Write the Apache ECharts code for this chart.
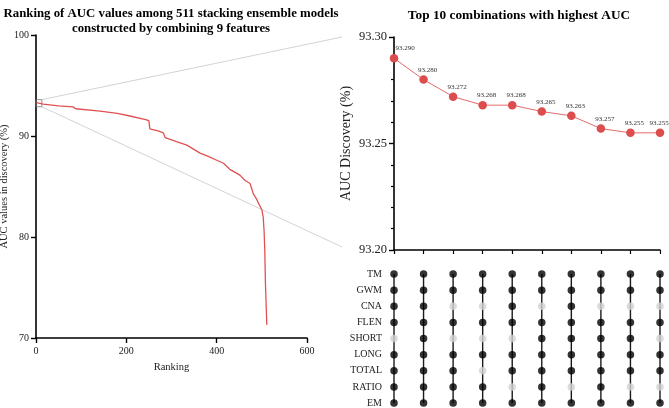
<!DOCTYPE html>
<html>
<head>
<meta charset="utf-8">
<script src="https://cdn.jsdelivr.net/npm/echarts@6/dist/echarts.min.js"></script>
<style>html,body{margin:0;padding:0;background:#fff;}#c{width:669px;height:408px;}</style>
</head>
<body>
<div id="c"></div>
<script>
// ---- Data ----
// Left panel: ranking vs AUC
const rankPoints = [
  [1, 93.3], [16, 93.15], [50, 92.98], [82, 92.88], [88, 92.7], [142, 92.47], [180, 92.25],
  [208, 91.98], [245, 91.6], [250, 91.5], [252, 90.7], [270, 90.5], [282, 90.3], [286, 89.85],
  [311, 89.45], [334, 89.1], [345, 88.8], [363, 88.3], [380, 88.0], [400, 87.6], [415, 87.3],
  [429, 86.7], [445, 86.3], [452, 86.1], [463, 85.6], [474, 85.3], [481, 84.3], [489, 83.7],
  [492, 83.4], [500, 82.7], [503, 82.0], [505, 80.6], [506.5, 78.7], [508, 75.4], [511, 71.3]
];
// Right top: top-10 AUC values
const comboIds = ['1','2','3','4','5','6','7','8','9','10'];
const topAuc = [93.290, 93.280, 93.272, 93.268, 93.268, 93.265, 93.263, 93.257, 93.255, 93.255];
// Right bottom: feature membership per combination (1 = included)
const features = ['TM','GWM','CNA','FLEN','SHORT','LONG','TOTAL','RATIO','EM'];
const TM    = [1,1,1,1,1,1,1,1,1,1];
const GWM   = [1,1,1,1,1,1,1,1,1,1];
const CNA   = [1,1,0,0,1,0,1,0,0,0];
const FLEN  = [1,1,1,1,1,1,1,1,1,1];
const SHORT = [0,1,0,0,0,1,1,1,1,0];
const LONG  = [1,1,1,1,1,1,1,1,1,1];
const TOTAL = [1,1,1,0,1,1,1,1,1,1];
const RATIO = [1,1,1,1,0,1,0,1,0,0];
const EM    = [1,1,1,1,1,1,1,1,1,1];
const membership = [TM, GWM, CNA, FLEN, SHORT, LONG, TOTAL, RATIO, EM];
// tick values
const leftYTicks = [70, 80, 90, 100];
const leftXTicks = [0, 200, 400, 600];
const rightYTicks = [93.20, 93.25, 93.30];

// ---- Build ----
const serif = 'Liberation Serif';
const included = [], excluded = [];
membership.forEach((row, r) => row.forEach((v, c) => (v ? included : excluded).push([c, r])));

const connectorSeries = comboIds.map((id, c) => ({
  type: 'line', xAxisIndex: 2, yAxisIndex: 2, silent: true, symbol: 'none', z: 1,
  lineStyle: { color: '#1a1a1a', width: 1.4 },
  data: [[c, 0], [c, features.length - 1]]
}));

const chart = echarts.init(document.getElementById('c'), null, { renderer: 'canvas' });
const axisLine = { show: true, lineStyle: { color: '#000', width: 1.6 } };
const labelStyle = { fontFamily: serif, color: '#222' };

chart.setOption({
  animation: false,
  backgroundColor: '#fff',
  title: [
    { text: 'Ranking of AUC values among 511 stacking ensemble models\nconstructed by combining 9 features',
      left: 166, top: 1, textAlign: 'center',
      textStyle: { fontFamily: serif, fontWeight: 'bold', fontSize: 12.8, lineHeight: 15, color: '#000' } },
    { text: 'Top 10 combinations with highest AUC', left: 514, top: 4, textAlign: 'center',
      textStyle: { fontFamily: serif, fontWeight: 'bold', fontSize: 13.3, color: '#000' } }
  ],
  grid: [
    { left: 36, right: 362, top: 35, bottom: 70, outerBoundsMode: 'none', containLabel: false },
    { left: 394, right: 9, top: 37, bottom: 158, outerBoundsMode: 'none', containLabel: false },
    { left: 394, right: 9, top: 274, bottom: 5, outerBoundsMode: 'none', containLabel: false }
  ],
  xAxis: [
    { type: 'value', gridIndex: 0, min: leftXTicks[0], max: leftXTicks[leftXTicks.length-1], interval: 200,
      name: 'Ranking', nameLocation: 'middle', nameGap: 24,
      nameTextStyle: { fontFamily: serif, fontSize: 10.5, color: '#222' },
      axisLine, axisTick: { show: true, length: 5, lineStyle: { color: '#000', width: 1.4 } },
      axisLabel: { ...labelStyle, fontSize: 10, margin: 8 }, splitLine: { show: false } },
    { type: 'category', gridIndex: 1, data: comboIds, boundaryGap: false,
      axisLine, axisTick: { show: true, interval: 0, length: 4, lineStyle: { color: '#000', width: 1.2 } },
      axisLabel: { show: false }, splitLine: { show: false } },
    { type: 'category', gridIndex: 2, data: comboIds, boundaryGap: false, show: false }
  ],
  yAxis: [
    { type: 'value', gridIndex: 0, min: leftYTicks[0], max: leftYTicks[leftYTicks.length-1], interval: 10,
      name: 'AUC values in discovery (%)', nameLocation: 'middle', nameGap: 20,
      nameTextStyle: { fontFamily: serif, fontSize: 10.5, color: '#222' },
      axisLine, axisTick: { show: true, length: 5, lineStyle: { color: '#000', width: 1.4 } },
      axisLabel: { ...labelStyle, fontSize: 10, margin: 7 }, splitLine: { show: false } },
    { type: 'value', gridIndex: 1, min: rightYTicks[0], max: rightYTicks[rightYTicks.length-1], interval: 0.05,
      name: 'AUC Discovery (%)', nameLocation: 'middle', nameGap: 41,
      nameTextStyle: { fontFamily: serif, fontSize: 14, color: '#222' },
      axisLine, axisTick: { show: true, length: 5, lineStyle: { color: '#000', width: 1.4 } },
      minorTick: { show: true, splitNumber: 5, length: 3, lineStyle: { color: '#000', width: 1.2 } },
      axisLabel: { ...labelStyle, fontSize: 12.5, margin: 7, formatter: v => v.toFixed(2) },
      splitLine: { show: false } },
    { type: 'category', gridIndex: 2, data: features, inverse: true, boundaryGap: false,
      axisLine: { show: false }, axisTick: { show: false },
      axisLabel: { ...labelStyle, fontSize: 10, margin: 12 } }
  ],
  series: [
    { type: 'line', xAxisIndex: 0, yAxisIndex: 0, data: rankPoints, showSymbol: false,
      lineStyle: { color: '#e05252', width: 1.3 },
      markArea: { silent: true, itemStyle: { color: 'rgba(0,0,0,0)', borderColor: '#777', borderWidth: 0.8 },
        data: [[{ coord: [0, 93.6] }, { coord: [13, 92.9] }]] } },
    { type: 'line', xAxisIndex: 1, yAxisIndex: 1, symbol: 'circle', symbolSize: 8.5,
      itemStyle: { color: '#dc4d4d' }, lineStyle: { color: '#e36a6a', width: 1 },
      label: { show: true, position: 'top', distance: 2, fontFamily: serif, fontSize: 7, color: '#333',
        formatter: p => p.value.toFixed(3) },
      data: topAuc.map((v, i) => ({ value: v,
        label: { offset: [i === 0 ? 11 : (i === topAuc.length - 1 ? -1 : 4), 0] } })) },
    ...connectorSeries,
    { type: 'scatter', xAxisIndex: 2, yAxisIndex: 2, data: excluded, symbolSize: 7.5, z: 2,
      itemStyle: { color: '#d2d2d2' }, silent: true },
    { type: 'scatter', xAxisIndex: 2, yAxisIndex: 2, data: included, symbolSize: 7.5, z: 3,
      itemStyle: { color: '#000' }, silent: true }
  ]
});

// zoom connector lines from the small box on the left panel toward the right panel
const pTop = chart.convertToPixel({ gridIndex: 0 }, [13, 93.6]);
const pBot = chart.convertToPixel({ gridIndex: 0 }, [13, 92.9]);
const rTop = chart.convertToPixel({ xAxisIndex: 1, yAxisIndex: 1 }, [0, rightYTicks[rightYTicks.length-1]]);
const rBot = chart.convertToPixel({ xAxisIndex: 1, yAxisIndex: 1 }, [0, rightYTicks[0]]);
const endX = rTop[0] - 52;
chart.setOption({
  graphic: [
    { type: 'line', silent: true, z: 0, shape: { x1: pTop[0], y1: pTop[1], x2: endX, y2: rTop[1] },
      style: { stroke: '#c8c8c8', lineWidth: 0.8 } },
    { type: 'line', silent: true, z: 0, shape: { x1: pBot[0], y1: pBot[1], x2: endX, y2: rBot[1] - 3 },
      style: { stroke: '#c8c8c8', lineWidth: 0.8 } }
  ]
});
</script>
</body>
</html>
